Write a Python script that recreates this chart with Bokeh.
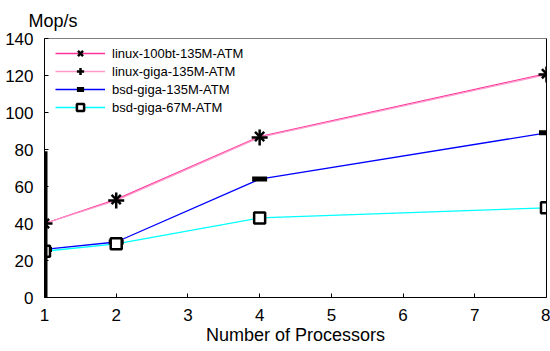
from bokeh.plotting import figure
from bokeh.models import (LinearAxis, FixedTicker, Range1d, Legend, LegendItem,
                          Title, Arrow)
from bokeh.embed import file_html
from bokeh.resources import INLINE

processors = [1, 2, 4, 8]
linux_100bt = [40, 53, 87, 121]
linux_giga = [40, 52.5, 86.5, 120.5]
bsd_giga_135 = [26, 30, 64, 89]
bsd_giga_67 = [25, 29, 43, 48.5]
x_ticks = [1, 2, 3, 4, 5, 6, 7, 8]
y_ticks = [0, 20, 40, 60, 80, 100, 120, 140]
bar_top = [79]

FONT = "Liberation Sans"

p = figure(width=550, height=351, output_backend="svg", toolbar_location=None,
           x_range=Range1d(1, 8), y_range=Range1d(0, 140),
           min_border_left=44, min_border_top=38, min_border_right=4,
           min_border_bottom=54, x_axis_location=None, y_axis_location=None)
p.outline_line_color = None
p.grid.visible = False
p.background_fill_color = "white"

xa = LinearAxis(ticker=FixedTicker(ticks=x_ticks), axis_label="Number of Processors")
ya = LinearAxis(ticker=FixedTicker(ticks=y_ticks))
for ax in (xa, ya):
    ax.major_tick_in = 4
    ax.major_tick_out = 0
    ax.minor_tick_in = 0
    ax.minor_tick_out = 0
    ax.axis_line_color = "black"
    ax.major_tick_line_color = "black"
    ax.major_label_text_font = FONT
    ax.major_label_text_font_size = "17px"
    ax.major_label_text_color = "black"
    ax.axis_label_text_font = FONT
    ax.axis_label_text_font_size = "18px"
    ax.axis_label_text_font_style = "normal"
    ax.axis_label_text_color = "black"
xa.major_label_standoff = 11
xa.axis_label_standoff = 1
ya.major_label_standoff = 11
p.add_layout(xa, "below")
p.add_layout(ya, "left")

top = LinearAxis(ticker=FixedTicker(ticks=[]), axis_line_color="#808080",
                 major_tick_in=0, major_tick_out=0, minor_tick_in=0, minor_tick_out=0)
right = LinearAxis(ticker=FixedTicker(ticks=[]), axis_line_color="black",
                   major_tick_in=0, major_tick_out=0, minor_tick_in=0, minor_tick_out=0)
p.add_layout(top, "above")
p.add_layout(right, "right")

p.add_layout(Title(text="Mop/s", align="left", offset=-16, standoff=16,
                   text_font=FONT, text_font_size="18px", text_font_style="normal",
                   text_color="black"), "above")

# thick left bar
p.add_layout(Arrow(x_start=processors[0], y_start=y_ticks[0], x_end=processors[0],
                   y_end=bar_top[0], end=None, line_width=6, line_color="black"))

series = [
    ("linux-100bt-135M-ATM", linux_100bt, "#FF3399", "x", 13, 2.5),
    ("linux-giga-135M-ATM", linux_giga, "#FF99CC", "cross", 16, 2.5),
    ("bsd-giga-135M-ATM", bsd_giga_135, "#0000FF", "dash", 15, 5),
    ("bsd-giga-67M-ATM", bsd_giga_67, "#00FFFF", "square", 11, 2.5),
]
items = []
lines = []
for name, ys, col, mk, sz, lw in series:
    l = p.line(processors, ys, line_color=col, line_width=1.3)
    lines.append((name, l, ys, mk, sz, lw))
for name, l, ys, mk, sz, lw in lines:
    s = p.scatter(processors, ys, marker=mk, size=sz, line_color="black",
                  fill_color="white", line_width=lw)
    items.append(LegendItem(label=name, renderers=[l, s]))

leg = Legend(items=items, location=(11, 181), border_line_color=None,
             background_fill_alpha=0, glyph_width=50, glyph_height=18,
             label_height=18, spacing=0, padding=0, margin=0,
             label_standoff=7, label_text_font=FONT,
             label_text_font_size="13px", label_text_color="black")
p.add_layout(leg)

open("out.html", "w").write(file_html(p, INLINE))
